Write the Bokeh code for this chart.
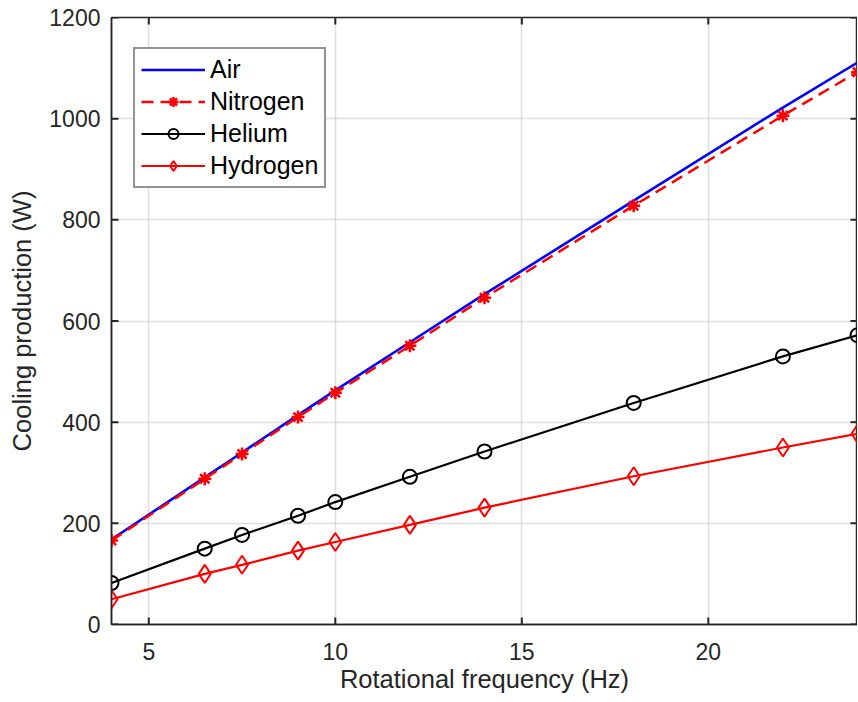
from bokeh.plotting import figure
from bokeh.models import FixedTicker, Legend, LegendItem, Range1d
from bokeh.embed import file_html
from bokeh.resources import INLINE

freq = [4, 6.5, 7.5, 9, 10, 12, 14, 18, 22, 24]
air = [168, 291, 340, 414, 463, 558, 653, 838, 1022, 1111]
nitrogen = [166, 288, 337, 410, 458, 551, 646, 828, 1006, 1092]
helium = [82, 150, 177, 215, 242, 292, 342, 438, 530, 572]
hydrogen = [50, 100, 118, 146, 163, 197, 231, 293, 350, 377]

x_ticks = [5, 10, 15, 20]
y_ticks = [0, 200, 400, 600, 800, 1000, 1200]
x_lim = (4, 24)
y_lim = (0, 1200)

FONT = "Liberation Sans"
TXT = "#262626"
FW, FH = 746, 607
TICK_PX = 7

p = figure(frame_width=FW, frame_height=FH, output_backend="svg",
           toolbar_location=None, x_range=Range1d(*x_lim), y_range=Range1d(*y_lim),
           min_border_left=111, min_border_top=17, min_border_right=0, min_border_bottom=0,
           background_fill_color="white", border_fill_color="white")

p.outline_line_color = TXT
p.outline_line_width = 1.5

for ax in (p.xaxis[0], p.yaxis[0]):
    ax.major_tick_in = 0
    ax.major_tick_out = 0
    ax.minor_tick_in = 0
    ax.minor_tick_out = 0
    ax.axis_line_color = TXT
    ax.axis_line_width = 1.5
    ax.major_label_text_font = FONT
    ax.major_label_text_font_size = "23px"
    ax.major_label_text_color = TXT
    ax.axis_label_text_font = FONT
    ax.axis_label_text_font_size = "25.5px"
    ax.axis_label_text_font_style = "normal"
    ax.axis_label_text_color = TXT

p.xaxis[0].ticker = FixedTicker(ticks=x_ticks)
p.yaxis[0].ticker = FixedTicker(ticks=y_ticks)
p.xaxis[0].axis_label = "Rotational frequency (Hz)"
p.yaxis[0].axis_label = "Cooling production (W)"
p.xaxis[0].major_label_standoff = 18
p.xaxis[0].axis_label_standoff = 2
p.yaxis[0].major_label_standoff = 11
p.yaxis[0].axis_label_standoff = 10

for g in (p.xgrid[0], p.ygrid[0]):
    g.grid_line_color = "#c8c8c8"
    g.grid_line_alpha = 0.6
    g.grid_line_width = 1.5
p.xgrid[0].ticker = FixedTicker(ticks=x_ticks)
p.ygrid[0].ticker = FixedTicker(ticks=y_ticks)

# inward tick marks on all four sides, TICK_PX pixels long
dx = TICK_PX * (x_lim[1] - x_lim[0]) / FW
dy = TICK_PX * (y_lim[1] - y_lim[0]) / FH
nx, ny = len(x_ticks), len(y_ticks)
seg_kw = dict(line_color=TXT, line_width=2)
p.segment(x0=x_ticks, y0=[y_lim[0]] * nx, x1=x_ticks, y1=[y_lim[0] + dy] * nx, **seg_kw)
p.segment(x0=x_ticks, y0=[y_lim[1]] * nx, x1=x_ticks, y1=[y_lim[1] - dy] * nx, **seg_kw)
p.segment(x0=[x_lim[0]] * ny, y0=y_ticks, x1=[x_lim[0] + dx] * ny, y1=y_ticks, **seg_kw)
p.segment(x0=[x_lim[1]] * ny, y0=y_ticks, x1=[x_lim[1] - dx] * ny, y1=y_ticks, **seg_kw)

r_air = p.line(freq, air, line_color="#0000ff", line_width=2.6)

r_n2l = p.line(freq, nitrogen, line_color="#ff0000", line_width=2.5, line_dash="12 7")
r_n2m = p.scatter(freq, nitrogen, marker="asterisk", size=13, line_color="#ff0000",
                  line_width=2.5)

r_hel = p.line(freq, helium, line_color="#000000", line_width=2.2)
r_hem = p.scatter(freq, helium, marker="circle", size=14, line_color="#000000",
                  fill_color=None, line_width=2)

r_h2l = p.line(freq, hydrogen, line_color="#ff0000", line_width=2.2)
r_h2m = p.scatter(freq, hydrogen, marker="diamond", size=18, line_color="#ff0000",
                  fill_color=None, line_width=2)

legend = Legend(items=[
    LegendItem(label="Air", renderers=[r_air]),
    LegendItem(label="Nitrogen", renderers=[r_n2l, r_n2m]),
    LegendItem(label="Helium", renderers=[r_hel, r_hem]),
    LegendItem(label="Hydrogen", renderers=[r_h2l, r_h2m]),
], location=(22, 436))
legend.label_text_font = FONT
legend.label_text_font_size = "25px"
legend.label_text_color = "#000000"
legend.glyph_width = 64
legend.glyph_height = 25
legend.label_height = 25
legend.label_standoff = 5
legend.spacing = 3
legend.padding = 6
legend.margin = 0
legend.border_line_color = TXT
legend.border_line_width = 2
legend.background_fill_color = "white"
legend.background_fill_alpha = 1
p.add_layout(legend, "center")

open("out.html", "w").write(file_html(p, INLINE))
